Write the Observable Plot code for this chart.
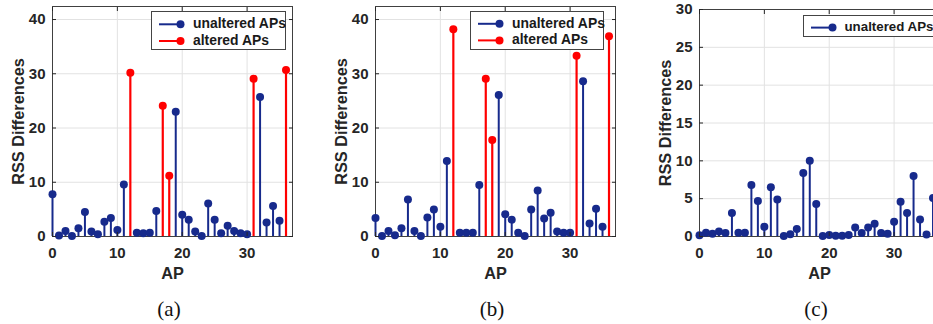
<!DOCTYPE html>
<html><head><meta charset="utf-8">
<script src="https://cdn.jsdelivr.net/npm/d3@7"></script>
<script src="https://cdn.jsdelivr.net/npm/@observablehq/plot@0.6"></script>
<style>
html,body{margin:0;padding:0;background:#fff;}
#wrap{position:relative;width:933px;height:324px;overflow:hidden;font-family:"Liberation Sans",Arial,sans-serif;}
.panel{position:absolute;top:0;}
.cap{position:absolute;top:309px;font-family:"Liberation Serif","Times New Roman",serif;font-size:21px;color:#111;transform:translate(-50%,-50%);white-space:nowrap;}
.legend{position:absolute;background:#fff;border:1px solid #444;box-sizing:border-box;}
.legend svg{position:absolute;left:0;top:0;overflow:visible;}
.legend span{position:absolute;font-weight:bold;font-size:13.9px;color:#1a1a1a;white-space:nowrap;transform:translateY(-50%);line-height:1;}
</style>
</head><body>
<div id="wrap"></div>
<script>
// ---- data ----
const ap = [0,1,2,3,4,5,6,7,8,9,10,11,12,13,14,15,16,17,18,19,20,21,22,23,24,25,26,27,28,29,30,31,32,33,34,35,36];
const rssA = [7.8,0.2,1.0,0.1,1.5,4.5,0.9,0.4,2.7,3.4,1.2,9.6,30.2,0.7,0.6,0.7,4.7,24.1,11.2,23.0,4.0,3.1,0.9,0.1,6.1,3.1,0.6,2.0,1.0,0.6,0.4,29.1,25.7,2.6,5.6,2.9,30.7];
const rssB = [3.4,0.1,1.0,0.25,1.5,6.8,1.0,0.1,3.5,5.0,1.8,13.9,38.2,0.7,0.7,0.7,9.5,29.1,17.8,26.1,4.1,3.1,0.7,0.1,5.0,8.5,3.3,4.4,0.9,0.7,0.7,33.3,28.6,2.4,5.1,1.8,36.9];
const rssC = [0.15,0.5,0.35,0.65,0.45,3.1,0.5,0.5,6.8,4.7,1.3,6.5,4.9,0.05,0.3,1.0,8.4,10.0,4.3,0.05,0.2,0.1,0.1,0.2,1.2,0.45,1.2,1.7,0.45,0.35,1.95,4.6,3.1,8.0,2.25,0.25,5.1];
const alteredA = [12,17,18,31,36];
const alteredB = [12,17,18,31,36];
const alteredC = [];
const xTicks = [0,10,20,30];
const yTicksAB = [0,10,20,30,40];
const yTicksC = [0,5,10,15,20,25,30];
const seriesNames = ["unaltered APs","altered APs"];
const captions = ["(a)","(b)","(c)"];
const xLabel = "AP";
const yLabel = "RSS Differences";

const BLUE = "#172a8c", RED = "#ff0000";
const wrap = document.getElementById("wrap");

function panel(opts){
  const {left, marginLeft, marginRight, marginTop, yDomain, yTicks, vals, altered} = opts;
  const alt = new Set(altered);
  const rows = ap.map((a,i)=>({ap:a, v:vals[i], altered:alt.has(a)}));
  const un = rows.filter(d=>!d.altered), al = rows.filter(d=>d.altered);
  const chart = Plot.plot({
    width:300, height:290, marginLeft, marginRight, marginTop, marginBottom:54,
    x:{domain:[0,37]}, y:{domain:yDomain},
    style:{fontFamily:'"Liberation Sans",Arial,sans-serif', fontSize:"15px", fontWeight:"bold", color:"#262626", background:"transparent", overflow:"visible"},
    marks:[
      Plot.gridX(xTicks,{stroke:"#e2e2e2", strokeOpacity:1}),
      Plot.gridY(yTicks,{stroke:"#e2e2e2", strokeOpacity:1}),
      Plot.frame({stroke:"#404040"}),
      Plot.ruleX(un,{x:"ap", y1:0, y2:"v", stroke:BLUE, strokeWidth:2}),
      Plot.dot(un,{x:"ap", y:"v", fill:BLUE, r:4}),
      Plot.ruleX(al,{x:"ap", y1:0, y2:"v", stroke:RED, strokeWidth:2.2}),
      Plot.dot(al,{x:"ap", y:"v", fill:RED, r:4}),
      Plot.axisX(xTicks,{tickSize:-4, tickPadding:15, label:null}),
      Plot.axisX(xTicks,{anchor:"top", tickSize:-4, tickFormat:()=>"", label:null}),
      Plot.axisY(yTicks,{tickSize:-4, tickPadding:11, label:null}),
      Plot.axisY(yTicks,{anchor:"right", tickSize:-4, tickFormat:()=>"", label:null}),
      Plot.text([yLabel],{text:d=>d, frameAnchor:"left", dx:-33.5, rotate:-90, fontSize:16.3, fontWeight:"bold", fill:"#262626", textAnchor:"middle", lineAnchor:"middle"}),
      Plot.text([xLabel],{text:d=>d, frameAnchor:"bottom", dy:37, fontSize:16.3, fontWeight:"bold", fill:"#262626", lineAnchor:"middle"})
    ]
  });
  chart.classList.add("panel");
  chart.style.left = left+"px";
  wrap.appendChild(chart);
}

function legend(left, top, w, h, entries, fs){
  const box = document.createElement("div");
  box.className = "legend";
  Object.assign(box.style,{left:left+"px", top:top+"px", width:w+"px", height:h+"px"});
  const ns = "http://www.w3.org/2000/svg";
  const svg = document.createElementNS(ns,"svg");
  svg.setAttribute("width", w); svg.setAttribute("height", h);
  entries.forEach(e=>{
    const ln = document.createElementNS(ns,"line");
    ln.setAttribute("x1",7); ln.setAttribute("x2",28.5); ln.setAttribute("y1",e.y); ln.setAttribute("y2",e.y);
    ln.setAttribute("stroke",e.color); ln.setAttribute("stroke-width",2);
    svg.appendChild(ln);
    const c = document.createElementNS(ns,"circle");
    c.setAttribute("cx",28.5); c.setAttribute("cy",e.y); c.setAttribute("r",4); c.setAttribute("fill",e.color);
    svg.appendChild(c);
    const s = document.createElement("span");
    s.textContent = e.label; s.style.left = "41px"; s.style.top = e.y+"px";
    if (fs) s.style.fontSize = fs + "px";
    box.appendChild(s);
  });
  box.insertBefore(svg, box.firstChild);
  wrap.appendChild(box);
}

function caption(x, t){
  const d = document.createElement("div");
  d.className = "cap"; d.textContent = t; d.style.left = x+"px";
  wrap.appendChild(d);
}

panel({left:0, marginLeft:52, marginRight:8, marginTop:6, yDomain:[0,42.4], yTicks:yTicksAB, vals:rssA, altered:alteredA});
panel({left:320, marginLeft:55, marginRight:5, marginTop:6, yDomain:[0,42.4], yTicks:yTicksAB, vals:rssB, altered:alteredB});
panel({left:640, marginLeft:59, marginRight:1, marginTop:9, yDomain:[0,30], yTicks:yTicksC, vals:rssC, altered:alteredC});

legend(151, 11, 135, 39, [{label:seriesNames[0], color:BLUE, y:12.3},{label:seriesNames[1], color:RED, y:29}]);
legend(470, 11, 134, 38.5, [{label:seriesNames[0], color:BLUE, y:11.8},{label:seriesNames[1], color:RED, y:28.4}]);
legend(802.5, 14.5, 145, 22.5, [{label:seriesNames[0], color:BLUE, y:11.6}], 13.3);

caption(169, captions[0]);
caption(492, captions[1]);
caption(816, captions[2]);
</script>
</body></html>
